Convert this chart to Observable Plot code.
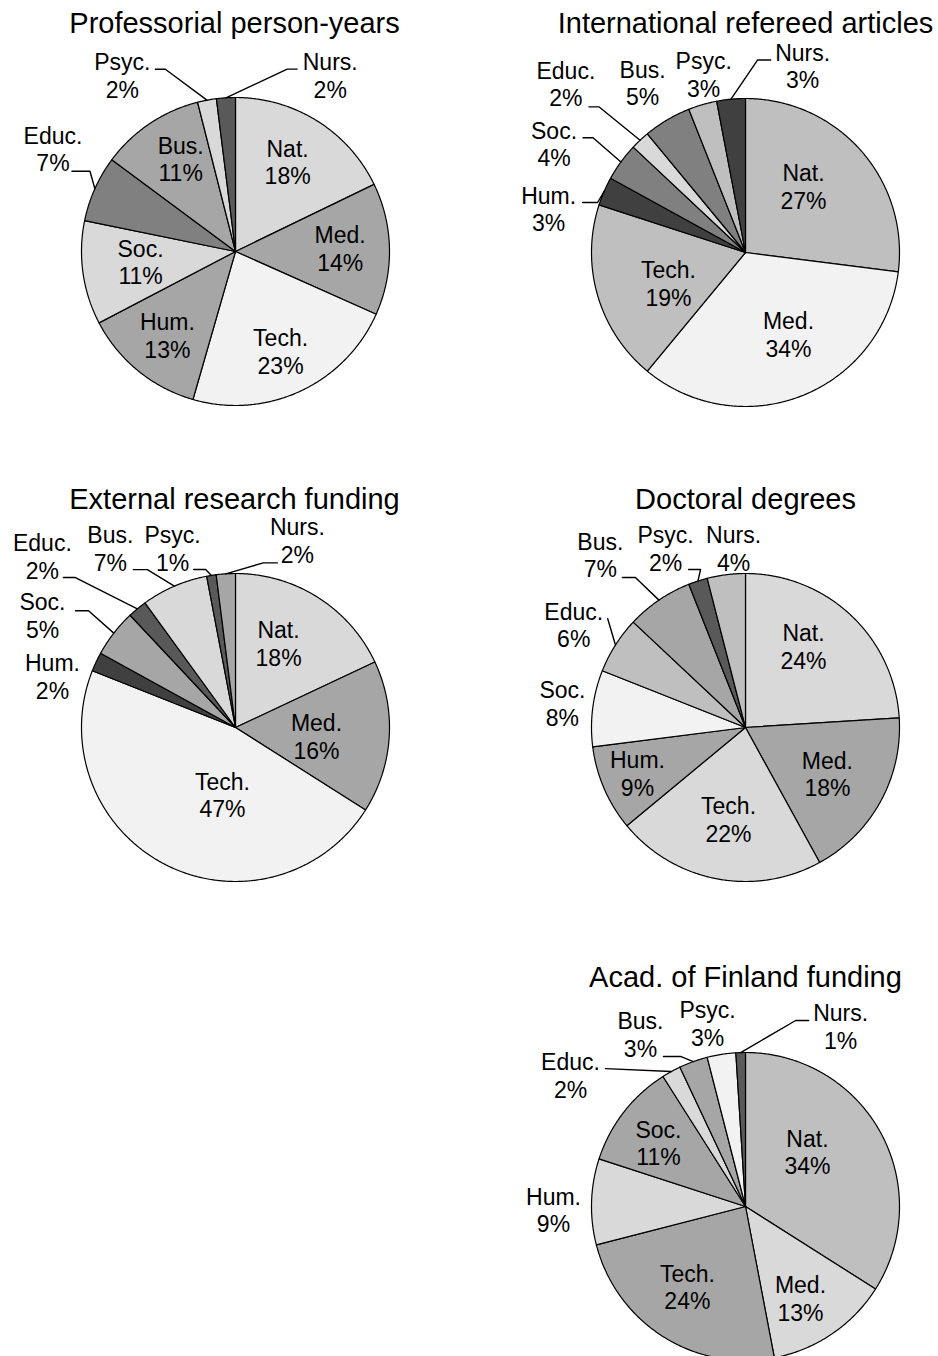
<!DOCTYPE html>
<html><head><meta charset="utf-8">
<script src="https://cdn.jsdelivr.net/npm/d3@7"></script>
<script src="https://cdn.jsdelivr.net/npm/@observablehq/plot@0.6"></script>
<style>body{margin:0;background:#fff}</style>
</head><body><div id="chart"></div>
<script>
// ---------- data ----------
const categories = ["Nat.","Med.","Tech.","Hum.","Soc.","Educ.","Bus.","Psyc.","Nurs."];
const professorialPersonYears = [18,14,23,13,11,7,11,2,2];
const refereedArticles       = [27,34,19,3,4,2,5,3,3];
const externalFunding        = [18,16,47,2,5,2,7,1,2];
const doctoralDegrees        = [24,18,22,9,8,6,7,2,4];
const academyFunding         = [34,13,24,9,11,2,3,3,1];
const titles = ["Professorial person-years","International refereed articles","External research funding","Doctoral degrees","Acad. of Finland funding"];
const series = [professorialPersonYears, refereedArticles, externalFunding, doctoralDegrees, academyFunding];

// ---------- style / layout ----------
const W = 938, H = 1356, R = 154;
const panels = [
  {cx:235, cy:251,  tx:234, ty:32},
  {cx:745, cy:252,  tx:745, ty:32},
  {cx:235, cy:727,  tx:234, ty:508},
  {cx:745, cy:727,  tx:745, ty:508},
  {cx:745, cy:1206, tx:745, ty:986}
];
const fills = [
  ["#d9d9d9","#a6a6a6","#f2f2f2","#a6a6a6","#d9d9d9","#808080","#a6a6a6","#d9d9d9","#595959"],
  ["#bfbfbf","#f2f2f2","#bfbfbf","#404040","#808080","#d9d9d9","#808080","#bfbfbf","#404040"],
  ["#d9d9d9","#a6a6a6","#f2f2f2","#404040","#a6a6a6","#595959","#d9d9d9","#595959","#a6a6a6"],
  ["#d9d9d9","#a6a6a6","#d9d9d9","#a6a6a6","#f2f2f2","#bfbfbf","#a6a6a6","#595959","#bfbfbf"],
  ["#bfbfbf","#d9d9d9","#a6a6a6","#d9d9d9","#a6a6a6","#d9d9d9","#a6a6a6","#f2f2f2","#595959"]
];
// label placement: [radius factor, angular shift in degrees] relative to slice mid-angle
const labelPlace = [
  [[.675,-2],[.68,-1],[.71,.6],[.70,0],[.62,2],[1.36,5.3],[.70,3.3],[1.36,-22],[1.30,31.8]],
  [[.573,-7.5],[.598,-6.2],[.538,-5.4],[1.31,-10.8],[1.43,-6.4],[1.60,-3.6],[1.29,-.6],[1.19,3],[1.27,22.4]],
  [[.616,-5.4],[.529,2.7],[.443,-16],[1.234,-9.6],[1.45,-7.6],[1.677,-8.8],[1.42,-11.5],[1.235,-10.3],[1.28,21.9]],
  [[.65,-7.8],[.61,.5],[.604,-.3],[.761,.6],[1.199,.3],[1.30,-1.5],[1.466,-5.8],[1.276,-6],[1.168,3.4]],
  [[.538,-12.8],[.693,3.2],[.642,3.6],[1.247,-2.7],[.701,-1.5],[1.421,-24.3],[1.309,-11.6],[1.214,-2.7],[1.325,29.6]]
];
// leader lines: [panel, category index, start dx, start dy (from label), horizontal elbow]
const leaderSpecs = [
  [0,5,19,22.5,18],[0,7,33,-6,10],[0,8,-33,-6,-10],
  [1,3,34,-6,15],[1,4,29,-6,10],[1,5,23,23,10],[1,8,-32,-5.5,-13],
  [2,4,33,-4.5,13],[2,5,21,21.5,12],[2,6,23,21.5,14],[2,7,21,21.5,12],[2,8,-20,22.5,-14],
  [3,5,34,-6,0],[3,6,22,23,13],[3,7,23,21.5,12],
  [4,5,35,-6.5,0],[4,6,23,22,17],[4,8,-32,-5.5,-13]
];

// ---------- geometry from data ----------
const slices = [], labels = [], leaders = [], mids = [], labelPos = [];
series.forEach((vals, p) => {
  const {cx, cy} = panels[p];
  const arcs = d3.pie().sort(null).value(d => d)(vals);
  mids.push([]); labelPos.push([]);
  arcs.forEach((a, i) => {
    const key = p + "-" + i;
    const n = Math.max(2, Math.ceil((a.endAngle - a.startAngle) / (Math.PI / 360)));
    slices.push({key, x: cx, y: cy, fill: fills[p][i]});
    for (let j = 0; j <= n; j++) {
      const t = a.startAngle + (a.endAngle - a.startAngle) * j / n;
      slices.push({key, x: cx + R * Math.sin(t), y: cy - R * Math.cos(t), fill: fills[p][i]});
    }
    const mid = (a.startAngle + a.endAngle) / 2;
    mids[p].push(mid);
    const [k, dd] = labelPlace[p][i];
    const t = mid + dd * Math.PI / 180;
    const lx = cx + k * R * Math.sin(t), ly = cy - k * R * Math.cos(t);
    labelPos[p].push([lx, ly]);
    labels.push({x: lx, y: ly, text: categories[i] + "\n" + vals[i] + "%"});
  });
});
leaderSpecs.forEach(([p, i, sdx, sdy, el], j) => {
  const {cx, cy} = panels[p];
  const [lx, ly] = labelPos[p][i];
  const m = mids[p][i];
  const sx = lx + sdx, sy = ly + sdy;
  leaders.push({id: j, x: sx, y: sy});
  if (el) leaders.push({id: j, x: sx + el, y: sy});
  leaders.push({id: j, x: cx + R * Math.sin(m), y: cy - R * Math.cos(m)});
});
const titleData = titles.map((t, p) => ({x: panels[p].tx, y: panels[p].ty, text: t}));

const chart = Plot.plot({
  width: W, height: H, margin: 0,
  x: {domain: [0, W], range: [0, W], axis: null},
  y: {domain: [0, H], range: [0, H], axis: null},
  color: {type: "identity"},
  style: {fontFamily: "'Liberation Sans', Arial, sans-serif", background: "#fff", color: "#000"},
  marks: [
    Plot.line(slices, {x: "x", y: "y", z: "key", fill: "fill", stroke: "#000", strokeWidth: 1.2, strokeLinejoin: "round", curve: "linear-closed"}),
    Plot.line(leaders, {x: "x", y: "y", z: "id", stroke: "#000", strokeWidth: 1.4}),
    Plot.text(labels, {x: "x", y: "y", text: "text", fontSize: 23, lineHeight: 1.2, lineAnchor: "middle", fill: "#000"}),
    Plot.text(titleData, {x: "x", y: "y", text: "text", fontSize: 29, lineAnchor: "bottom", fill: "#000"})
  ]
});
document.getElementById("chart").appendChild(chart);
</script>
</body></html>
